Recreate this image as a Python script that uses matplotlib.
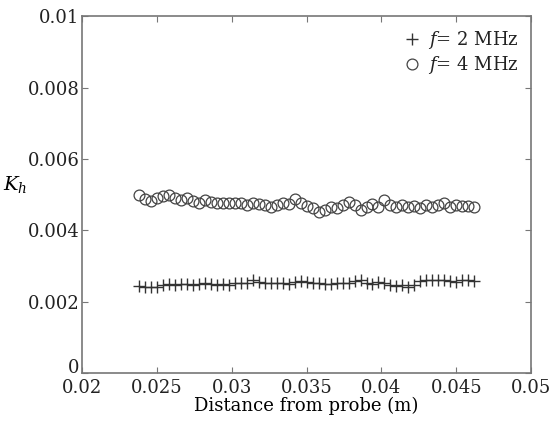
import matplotlib
matplotlib.use("Agg")
import matplotlib.pyplot as plt
import matplotlib.transforms as mtransforms

plt.rcParams['font.family'] = 'DejaVu Serif'
plt.rcParams['mathtext.fontset'] = 'dejavuserif'
plt.rcParams['text.color'] = '#222222'

# distance from probe (m)
dist = [0.0238, 0.0242, 0.0246, 0.0250, 0.0254, 0.0258, 0.0262, 0.0266, 0.0270, 0.0274,
        0.0278, 0.0282, 0.0286, 0.0290, 0.0294, 0.0298, 0.0302, 0.0306, 0.0310, 0.0314,
        0.0318, 0.0322, 0.0326, 0.0330, 0.0334, 0.0338, 0.0342, 0.0346, 0.0350, 0.0354,
        0.0358, 0.0362, 0.0366, 0.0370, 0.0374, 0.0378, 0.0382, 0.0386, 0.0390, 0.0394,
        0.0398, 0.0402, 0.0406, 0.0410, 0.0414, 0.0418, 0.0422, 0.0426, 0.0430, 0.0434,
        0.0438, 0.0442, 0.0446, 0.0450, 0.0454, 0.0458, 0.0462]

# Kh at f = 2 MHz
kh_2mhz = [0.00245, 0.00242, 0.00240, 0.00240, 0.00248, 0.00250, 0.00248, 0.00250, 0.00250, 0.00248,
           0.00250, 0.00252, 0.00250, 0.00248, 0.00250, 0.00248, 0.00252, 0.00252, 0.00254, 0.00260,
           0.00256, 0.00254, 0.00254, 0.00252, 0.00254, 0.00250, 0.00256, 0.00258, 0.00256, 0.00254,
           0.00252, 0.00250, 0.00250, 0.00252, 0.00254, 0.00252, 0.00258, 0.00260, 0.00254, 0.00250,
           0.00256, 0.00254, 0.00246, 0.00244, 0.00246, 0.00242, 0.00248, 0.00258, 0.00260, 0.00262,
           0.00262, 0.00260, 0.00258, 0.00256, 0.00262, 0.00262, 0.00258]

# Kh at f = 4 MHz
kh_4mhz = [0.00500, 0.00488, 0.00482, 0.00492, 0.00496, 0.00500, 0.00490, 0.00484, 0.00492, 0.00482,
           0.00478, 0.00484, 0.00480, 0.00476, 0.00478, 0.00476, 0.00478, 0.00476, 0.00472, 0.00478,
           0.00474, 0.00470, 0.00466, 0.00472, 0.00476, 0.00474, 0.00488, 0.00476, 0.00468, 0.00462,
           0.00452, 0.00458, 0.00466, 0.00464, 0.00470, 0.00480, 0.00472, 0.00458, 0.00466, 0.00474,
           0.00466, 0.00484, 0.00470, 0.00466, 0.00470, 0.00466, 0.00468, 0.00464, 0.00470, 0.00466,
           0.00472, 0.00476, 0.00466, 0.00472, 0.00468, 0.00468, 0.00466]

xticks = [0.02, 0.025, 0.03, 0.035, 0.04, 0.045, 0.05]
xticklabels = ['0.02', '0.025', '0.03', '0.035', '0.04', '0.045', '0.05']
yticks = [0, 0.002, 0.004, 0.006, 0.008, 0.01]
yticklabels = ['0', '0.002', '0.004', '0.006', '0.008', '0.01']

fig = plt.figure(figsize=(5.51, 4.26), dpi=100)
ax = fig.add_axes([0.149, 0.124, 0.815, 0.838])

ax.plot(dist, kh_2mhz, linestyle='none', marker='+', markersize=8.5, markeredgewidth=1.0,
        color='#333333', label='$f$= 2 MHz')
ax.plot(dist, kh_4mhz, linestyle='none', marker='o', markersize=7.8, markeredgewidth=0.9,
        markerfacecolor='none', markeredgecolor='#444444', label='$f$= 4 MHz')

ax.set_xlim(0.02, 0.05)
ax.set_ylim(0, 0.01)
ax.set_xticks(xticks)
ax.set_xticklabels(xticklabels)
ax.set_yticks(yticks)
ax.set_yticklabels(yticklabels)
ax.tick_params(direction='in', top=True, right=True, labelsize=13, length=4,
               color='#777777', labelcolor='#222222', pad=2)
ax.tick_params(axis='x', pad=4)
for s in ax.spines.values():
    s.set_color('#777777')
    s.set_linewidth(1.2)

# nudge the "0" label up so it sits just above "0.02"
zero_lbl = ax.get_yticklabels()[0]
zero_lbl.set_transform(zero_lbl.get_transform() +
                       mtransforms.ScaledTranslation(0, 5 / 72, fig.dpi_scale_trans))

ax.set_xlabel('Distance from probe (m)', fontsize=13, labelpad=0)
ax.set_ylabel('$K_h$', fontsize=14, rotation=0)
ax.yaxis.set_label_coords(-0.15, 0.5)

ax.legend(loc='upper right', frameon=False, fontsize=13, handletextpad=0.4,
          handlelength=1.0, borderaxespad=0.3, labelspacing=0.2)

fig.savefig('out.png', dpi=100)
